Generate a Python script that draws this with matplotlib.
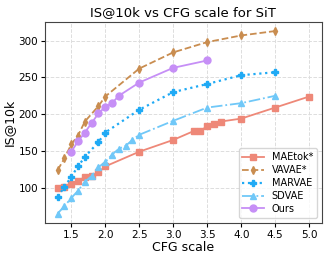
import matplotlib
matplotlib.use("Agg")
import matplotlib.pyplot as plt

maetok_x = [1.3, 1.4, 1.5, 1.6, 1.7, 1.8, 1.9, 2.0, 2.5, 3.0, 3.3, 3.4, 3.5, 3.6, 3.7, 4.0, 4.5, 5.0]
maetok_y = [100, 101, 105, 109, 115, 116, 121, 129, 149, 165, 177, 177, 184, 187, 190, 194, 209, 224]

vavae_x = [1.3, 1.4, 1.5, 1.6, 1.7, 1.9, 2.0, 2.5, 3.0, 3.5, 4.0, 4.5]
vavae_y = [124, 140, 159, 171, 190, 211, 224, 262, 284, 298, 307, 313]

marvae_x = [1.3, 1.4, 1.5, 1.6, 1.7, 1.9, 2.0, 2.5, 3.0, 3.5, 4.0, 4.5]
marvae_y = [88, 101, 115, 129, 142, 162, 175, 206, 230, 241, 253, 257]

sdvae_x = [1.3, 1.4, 1.5, 1.6, 1.7, 1.8, 1.9, 2.0, 2.1, 2.2, 2.3, 2.4, 2.5, 3.0, 3.5, 4.0, 4.5]
sdvae_y = [65, 75, 86, 96, 108, 116, 128, 135, 145, 153, 157, 165, 172, 191, 209, 215, 225]

ours_x = [1.5, 1.6, 1.7, 1.8, 1.9, 2.0, 2.1, 2.2, 2.5, 3.0, 3.5]
ours_y = [149, 163, 175, 188, 201, 210, 215, 225, 243, 263, 273]

fig = plt.figure(figsize=(3.29, 2.61), dpi=100)
ax = fig.add_axes([0.137, 0.147, 0.841, 0.769])

ax.plot(maetok_x, maetok_y, "-", marker="s", color="#EE8878", lw=1.3, ms=4, label="MAEtok*")
ax.plot(vavae_x, vavae_y, "--", marker="d", color="#C98D50", lw=1.3, ms=4, label="VAVAE*")
ax.plot(marvae_x, marvae_y, ":", marker="P", color="#1FAAF5", lw=1.6, ms=4.5, label="MARVAE")
ax.plot(sdvae_x, sdvae_y, "-.", marker="^", color="#70C8F8", lw=1.3, ms=4, label="SDVAE")
ax.plot(ours_x, ours_y, "-", marker="o", color="#C68FF6", lw=1.3, ms=5, label="Ours")

ax.set_xticks([1.5, 2.0, 2.5, 3.0, 3.5, 4.0, 4.5, 5.0])
ax.set_yticks([100, 150, 200, 250, 300])
ax.tick_params(labelsize=7.5, length=3, pad=2)
ax.grid(True, linestyle="--", color="#dddddd", lw=0.7)
ax.set_axisbelow(True)
for s in ax.spines.values():
    s.set_color("#444444")

ax.set_title("IS@10k vs CFG scale for SiT", fontsize=9.5, pad=4)
ax.set_xlabel("CFG scale", fontsize=9, labelpad=1)
ax.set_ylabel("IS@10k", fontsize=9, labelpad=2)
ax.legend(loc="lower right", fontsize=7, handlelength=2.2, labelspacing=0.3, borderpad=0.4)

fig.savefig("out.png", dpi=100)
